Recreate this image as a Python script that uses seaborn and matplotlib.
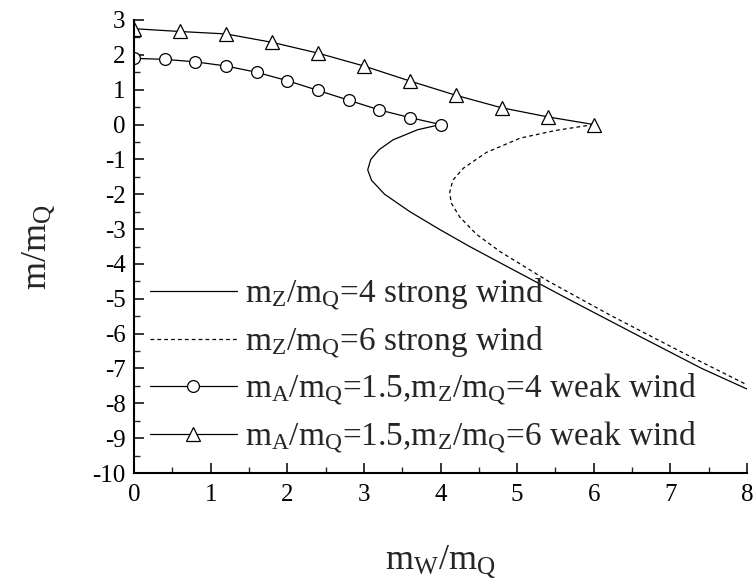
import matplotlib
matplotlib.use("Agg")
import matplotlib.pyplot as plt
import pandas as pd
import seaborn as sns
from matplotlib.ticker import MultipleLocator

# ---- data -------------------------------------------------------------
# strong wind, m_Z/m_Q = 4 (points ordered along the curve)
strong4_x = [4.00, 3.70, 3.38, 3.20, 3.09, 3.05, 3.10, 3.27, 3.60, 3.98, 4.38, 4.78, 5.66, 6.53, 7.41, 8.00]
strong4_y = [0.00, -0.15, -0.44, -0.72, -1.00, -1.30, -1.60, -2.00, -2.50, -3.00, -3.50, -3.97, -5.00, -6.00, -7.00, -7.59]

# strong wind, m_Z/m_Q = 6
strong6_x = [6.00, 5.50, 5.04, 4.60, 4.30, 4.16, 4.12, 4.14, 4.25, 4.47, 4.78, 5.41, 6.24, 7.12, 8.00]
strong6_y = [0.00, -0.17, -0.39, -0.80, -1.25, -1.60, -1.95, -2.25, -2.65, -3.15, -3.65, -4.50, -5.50, -6.50, -7.47]

# weak wind, m_A/m_Q = 1.5, m_Z/m_Q = 4
weak4_x = [0.0, 0.4, 0.8, 1.2, 1.6, 2.0, 2.4, 2.8, 3.2, 3.6, 4.0]
weak4_y = [1.90, 1.87, 1.80, 1.68, 1.50, 1.26, 0.98, 0.70, 0.42, 0.20, 0.00]

# weak wind, m_A/m_Q = 1.5, m_Z/m_Q = 6
weak6_x = [0.0, 0.6, 1.2, 1.8, 2.4, 3.0, 3.6, 4.2, 4.8, 5.4, 6.0]
weak6_y = [2.75, 2.67, 2.60, 2.36, 2.05, 1.68, 1.25, 0.84, 0.48, 0.22, 0.00]

labels = [
    r"$\mathrm{m_Z/m_Q}$=4 strong wind",
    r"$\mathrm{m_Z/m_Q}$=6 strong wind",
    r"$\mathrm{m_A/m_Q}$=1.5,$\mathrm{m_Z/m_Q}$=4 weak wind",
    r"$\mathrm{m_A/m_Q}$=1.5,$\mathrm{m_Z/m_Q}$=6 weak wind",
]
x_ticks = [0, 1, 2, 3, 4, 5, 6, 7, 8]
y_ticks = [3, 2, 1, 0, -1, -2, -3, -4, -5, -6, -7, -8, -9, -10]

# ---- style ------------------------------------------------------------
sns.set_style("ticks")
plt.rcParams["font.family"] = ["Liberation Serif", "DejaVu Serif"]
plt.rcParams["mathtext.fontset"] = "custom"
plt.rcParams["mathtext.rm"] = "Liberation Serif"
plt.rcParams["mathtext.it"] = "Liberation Serif:italic"
plt.rcParams["axes.unicode_minus"] = False

fig = plt.figure(figsize=(7.56, 5.82), dpi=100)
ax = fig.add_axes([134 / 756, 1 - 473 / 582, 613 / 756, 453 / 582])

s4 = pd.DataFrame({"x": strong4_x, "y": strong4_y})
s6 = pd.DataFrame({"x": strong6_x, "y": strong6_y})
w4 = pd.DataFrame({"x": weak4_x, "y": weak4_y})
w6 = pd.DataFrame({"x": weak6_x, "y": weak6_y})

sns.lineplot(data=s4, x="x", y="y", sort=False, estimator=None, ax=ax,
             color="black", lw=0.9, label=labels[0])
sns.lineplot(data=s6, x="x", y="y", sort=False, estimator=None, ax=ax,
             color="black", lw=0.9, label=labels[1])
ax.lines[-1].set_dashes((3, 2.5))
sns.lineplot(data=w4, x="x", y="y", sort=False, estimator=None, ax=ax,
             color="black", lw=0.9, marker="o", markersize=8.5,
             markerfacecolor="white", markeredgecolor="black",
             markeredgewidth=0.9, label=labels[2])
sns.lineplot(data=w6, x="x", y="y", sort=False, estimator=None, ax=ax,
             color="black", lw=0.9, marker="^", markersize=9.5,
             markerfacecolor="white", markeredgecolor="black",
             markeredgewidth=0.9, label=labels[3])

ax.set_xlim(0, 8)
ax.set_ylim(-10, 3)
ax.set_xticks(x_ticks)
ax.set_yticks(y_ticks)
ax.set_xticklabels([str(v) for v in x_ticks])
ax.set_yticklabels([str(v) for v in y_ticks])
ax.xaxis.set_minor_locator(MultipleLocator(0.5))
ax.yaxis.set_minor_locator(MultipleLocator(0.5))
ax.tick_params(which="major", direction="in", length=7, width=1.1,
               labelsize=18, colors="black")
ax.tick_params(which="minor", direction="in", length=4, width=1.0)
ax.tick_params(axis="x", which="major", pad=8)
ax.tick_params(axis="y", which="major", pad=6)
sns.despine(ax=ax)
for side in ("left", "bottom"):
    ax.spines[side].set_linewidth(1.5)
    ax.spines[side].set_color("black")

ax.set_xlabel(r"$\mathrm{m_W/m_Q}$", fontsize=26)
ax.set_ylabel(r"$\mathrm{m/m_Q}$", fontsize=26)
ax.xaxis.set_label_coords(0.5, -0.155)
ax.yaxis.set_label_coords(-0.125, 0.5)

ax.legend(loc="upper left", bbox_to_anchor=(0.026, 0.433), frameon=False,
          fontsize=24, handlelength=2.6, handletextpad=0.25,
          labelspacing=0.34, borderpad=0, borderaxespad=0)

fig.savefig("out.png", dpi=100)
